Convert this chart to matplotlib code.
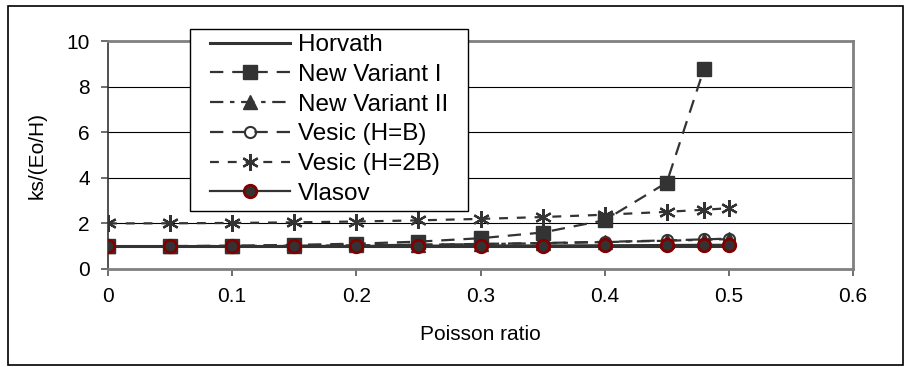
import matplotlib
matplotlib.use("Agg")
import matplotlib.pyplot as plt
from matplotlib.patches import Rectangle

plt.rcParams['font.family'] = ['Liberation Sans', 'DejaVu Sans']

nu = [0, 0.05, 0.1, 0.15, 0.2, 0.25, 0.3, 0.35, 0.4, 0.45, 0.48, 0.5]
nu_v1 = [0, 0.05, 0.1, 0.15, 0.2, 0.25, 0.3, 0.35, 0.4, 0.45, 0.48]

horvath = [1.0, 1.0, 1.0, 1.0, 1.0, 1.0, 1.0, 1.0, 1.0, 1.0, 1.0, 1.0]
new_variant_1 = [1.0, 1.005, 1.02, 1.06, 1.11, 1.2, 1.35, 1.6, 2.14, 3.79, 8.78]
new_variant_2 = [1.0, 1.0, 1.01, 1.02, 1.04, 1.06, 1.09, 1.13, 1.18, 1.24, 1.28, 1.31]
vesic_hb = [1.0, 1.003, 1.01, 1.023, 1.042, 1.067, 1.099, 1.14, 1.19, 1.254, 1.3, 1.333]
vesic_h2b = [2.0, 2.005, 2.02, 2.046, 2.083, 2.133, 2.198, 2.279, 2.381, 2.508, 2.599, 2.667]
vlasov = [1.0, 1.0, 1.0, 1.01, 1.01, 1.02, 1.03, 1.03, 1.04, 1.05, 1.06, 1.06]

xticks = [0, 0.1, 0.2, 0.3, 0.4, 0.5, 0.6]
xticklabels = ['0', '0.1', '0.2', '0.3', '0.4', '0.5', '0.6']
yticks = [0, 2, 4, 6, 8, 10]

W, H = 911, 367
fig = plt.figure(figsize=(W / 100, H / 100), dpi=100)
ax = fig.add_axes([108 / W, 1 - 269 / H, (853 - 108) / W, (269 - 41) / H])

dark = '#333333'
lw = 1.6

# horizontal grid
for yv in yticks[1:-1]:
    ax.axhline(yv, color='black', lw=0.8, zorder=0)

ax.plot(nu, horvath, color=dark, lw=2.2, ls='-', label='Horvath', zorder=3)
ax.plot(nu_v1, new_variant_1, color=dark, lw=lw, ls=(0, (6, 4)), marker='s',
        ms=9.5, mfc=dark, mec=dark, label='New Variant I', zorder=3)
ax.plot(nu, new_variant_2, color=dark, lw=lw, ls=(0, (6, 3, 2, 3)), marker='^',
        ms=9.5, mfc=dark, mec=dark, label='New Variant II', zorder=3)
ax.plot(nu, vesic_hb, color=dark, lw=lw, ls=(0, (6, 4)), marker='o',
        ms=8, mfc='none', mec=dark, mew=1.5, label='Vesic (H=B)', zorder=3)
ax.plot(nu, vesic_h2b, color=dark, lw=lw, ls=(0, (4, 4)), marker=(6, 2, 0),
        ms=12, mec=dark, mew=1.6, label='Vesic (H=2B)', zorder=3)
ax.plot(nu, vlasov, color=dark, lw=lw, ls='-', marker='o', ms=9,
        mfc=dark, mec='#800000', mew=2.0, label='Vlasov', zorder=4)

ax.set_xlim(0, 0.6)
ax.set_ylim(0, 10)
ax.set_xticks(xticks)
ax.set_xticklabels(xticklabels)
ax.set_yticks(yticks)
ax.tick_params(axis='both', labelsize=15, direction='out', length=5,
               color='#555555', width=1.2)
ax.tick_params(axis='x', pad=8)
ax.tick_params(axis='y', pad=8)

for s in ['top', 'right', 'bottom']:
    ax.spines[s].set_color('#808080')
    ax.spines[s].set_linewidth(2)
ax.spines['left'].set_color('#333333')
ax.spines['left'].set_linewidth(1.2)

ax.set_xlabel('Poisson ratio', fontsize=15, labelpad=14)
ax.set_ylabel('ks/(Eo/H)', fontsize=15, labelpad=14)

# legend box drawn separately to match the wide padding
box = Rectangle((190 / W, 1 - 211 / H), (468 - 190) / W, (211 - 29) / H,
                transform=fig.transFigure, facecolor='white',
                edgecolor='black', lw=1.0, zorder=5)
fig.patches.append(box)

leg = fig.legend(loc='upper left', bbox_to_anchor=(210 / W, 1 - 34 / H),
                 fontsize=17.5, frameon=False,
                 handlelength=3.3, handletextpad=0.3, labelspacing=0.32,
                 borderpad=0, borderaxespad=0, numpoints=1)
leg.set_zorder(10)

fig.patches.append(Rectangle((8 / W, 1 - 365 / H), (903 - 8) / W, (365 - 6) / H,
                             transform=fig.transFigure, fill=False,
                             edgecolor='black', lw=1.2))

fig.savefig('out.png', dpi=100)
